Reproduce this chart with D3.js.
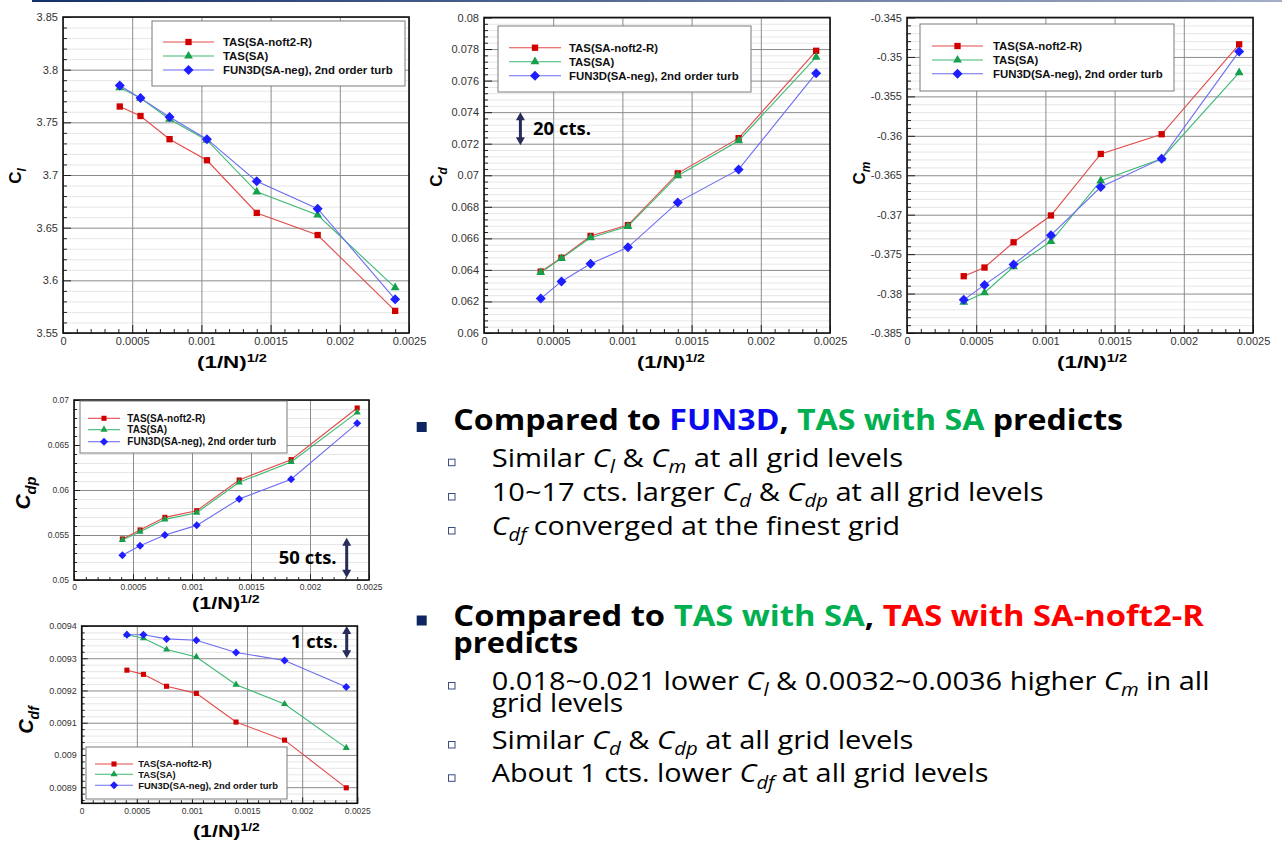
<!DOCTYPE html>
<html>
<head>
<meta charset="utf-8">
<script src="https://cdn.jsdelivr.net/npm/d3@7"></script>
<style>
  body { margin: 0; background: #fff; }
  svg { display: block; }
  text { white-space: pre; }
</style>
</head>
<body>
<svg id="slide" width="1282" height="843"></svg>
<script>
// grid size parameter (1/N)^1/2, same 7 grids for every plot
const gridX = [0.00041, 0.00056, 0.00077, 0.00104, 0.0014, 0.00184, 0.0024];
const seriesNames = ['TAS(SA-noft2-R)', 'TAS(SA)', 'FUN3D(SA-neg), 2nd order turb'];

// lift
const clNoft2 = [3.765, 3.756, 3.734, 3.714, 3.664, 3.643, 3.571];
const clSA    = [3.783, 3.773, 3.753, 3.733, 3.684, 3.662, 3.593];
const clFun3d = [3.785, 3.773, 3.755, 3.734, 3.694, 3.668, 3.582];

// drag
const cdNoft2 = [0.06389, 0.06477, 0.06615, 0.06684, 0.07012, 0.07235, 0.07789];
const cdSA    = [0.06384, 0.06473, 0.06604, 0.06676, 0.06997, 0.07219, 0.07749];
const cdFun3d = [0.06218, 0.06327, 0.06439, 0.06543, 0.06828, 0.07037, 0.07647];

// pitching moment
const cmNoft2 = [-0.3778, -0.3767, -0.3735, -0.3701, -0.3623, -0.3598, -0.3484];
const cmSA    = [-0.3811, -0.3799, -0.3766, -0.3734, -0.3657, -0.3629, -0.3520];
const cmFun3d = [-0.3808, -0.3789, -0.3763, -0.3726, -0.3665, -0.3629, -0.3493];

// pressure drag
const cdpNoft2 = [0.05456, 0.05556, 0.05696, 0.0577, 0.06111, 0.06337, 0.06911];
const cdpSA    = [0.05444, 0.05537, 0.05674, 0.05748, 0.06085, 0.06311, 0.06863];
const cdpFun3d = [0.05274, 0.05381, 0.055, 0.05607, 0.059, 0.06119, 0.06741];

// friction drag
const cdfNoft2 = [0.009263, 0.00925, 0.009213, 0.009191, 0.009102, 0.009046, 0.008898];
const cdfSA    = [0.009373, 0.009362, 0.009327, 0.009304, 0.009218, 0.009158, 0.009022];
const cdfFun3d = [0.009373, 0.009373, 0.00936, 0.009356, 0.009318, 0.009293, 0.009211];

const xDomain = [0, 0.0025];

const svg = d3.select('#slide');

// thin title bar line at the very top
const defs = svg.append('defs');
const grad = defs.append('linearGradient').attr('id', 'topbar');
grad.append('stop').attr('offset', '0%').attr('stop-color', '#14306a');
grad.append('stop').attr('offset', '100%').attr('stop-color', '#a3aec6');
svg.append('rect').attr('x', 32).attr('y', 0).attr('width', 1250).attr('height', 2).attr('fill', 'url(#topbar)');

const styles = [
	{ line: '#e24a4a', mark: '#d10000', sym: d3.symbolSquare },
	{ line: '#3cb874', mark: '#16a04c', sym: d3.symbolTriangle },
	{ line: '#6c6cf2', mark: '#1e1eff', sym: null } // diamond, see below
];

// square turned 45 deg, d3's own diamond is too skinny
const wideDiamond = {
	draw(ctx, size) {
		const r = Math.sqrt(size / 2);
		ctx.moveTo(0, -r); ctx.lineTo(r, 0); ctx.lineTo(0, r); ctx.lineTo(-r, 0); ctx.closePath();
	}
};
styles[2].sym = wideDiamond;

function ticksIn(lo, hi, st) {
	const a = Math.ceil(lo / st - 1e-6), b = Math.floor(hi / st + 1e-6);
	return d3.range(a, b + 1).map(i => +(i * st).toFixed(8));
}
function notOn(vals, st) {
	return vals.filter(v => Math.abs(v / st - Math.round(v / st)) > 1e-6);
}
const fmt = d => String(+d.toFixed(8));

function fitWidth(sel, x, w) {
	const bw = sel.node().getBBox().width;
	if (bw > 0) sel.attr('transform', `translate(${x},0) scale(${w / bw},1) translate(${-x},0)`);
}

function drawChart(o) {
	const b = o.box;
	const w = b.right - b.left, h = b.bottom - b.top;
	const g = svg.append('g');

	const x = d3.scaleLinear().domain(xDomain).range([b.left, b.right]);
	const y = d3.scaleLinear().domain(o.yDomain).range([b.bottom, b.top]);

	const xMaj = ticksIn(xDomain[0], xDomain[1], 0.0005);
	const xMin = notOn(ticksIn(xDomain[0], xDomain[1], 0.0001), 0.0005);
	const yMaj = ticksIn(o.yDomain[0], o.yDomain[1], o.yStep);
	const yMin = notOn(ticksIn(o.yDomain[0], o.yDomain[1], o.yMinor), o.yStep);

	// minor horizontal grid
	g.append('g')
		.attr('transform', `translate(${b.left},0)`)
		.call(d3.axisLeft(y).tickValues(yMin).tickSize(-w).tickFormat(''))
		.call(s => s.select('.domain').remove())
		.selectAll('line').attr('stroke', '#e0e0e0').attr('stroke-width', 0.8);

	// major grid
	g.append('g')
		.attr('transform', `translate(${b.left},0)`)
		.call(d3.axisLeft(y).tickValues(yMaj).tickSize(-w).tickFormat(''))
		.call(s => s.select('.domain').remove())
		.selectAll('line').attr('stroke', '#8c8c8c').attr('stroke-width', 1);
	g.append('g')
		.attr('transform', `translate(0,${b.bottom})`)
		.call(d3.axisBottom(x).tickValues(xMaj).tickSize(-h).tickFormat(''))
		.call(s => s.select('.domain').remove())
		.selectAll('line').attr('stroke', '#8c8c8c').attr('stroke-width', 1);

	// ticks pointing inward
	const tickFont = s => s.attr('font-family', 'Liberation Sans, Arial, sans-serif')
		.attr('font-size', o.tickSize).attr('fill', '#333');

	const yAx = g.append('g')
		.attr('transform', `translate(${b.left},0)`)
		.call(d3.axisLeft(y).tickValues(yMaj).tickSize(-o.majLen).tickPadding(o.yPad).tickFormat(fmt));
	yAx.select('.domain').remove();
	yAx.selectAll('text').call(tickFont).attr('font-size', o.yTickSize || o.tickSize);
	yAx.selectAll('line').attr('stroke', '#222');
	g.append('g')
		.attr('transform', `translate(${b.left},0)`)
		.call(d3.axisLeft(y).tickValues(yMin).tickSize(-o.majLen / 2).tickFormat(''))
		.call(s => s.select('.domain').remove())
		.selectAll('line').attr('stroke', '#222');

	const xAx = g.append('g')
		.attr('transform', `translate(0,${b.bottom})`)
		.call(d3.axisBottom(x).tickValues(xMaj).tickSize(-o.majLen).tickPadding(o.xPad).tickFormat(fmt));
	xAx.select('.domain').remove();
	xAx.selectAll('text').call(tickFont);
	xAx.selectAll('line').attr('stroke', '#222');
	g.append('g')
		.attr('transform', `translate(0,${b.bottom})`)
		.call(d3.axisBottom(x).tickValues(xMin).tickSize(-o.majLen / 2).tickFormat(''))
		.call(s => s.select('.domain').remove())
		.selectAll('line').attr('stroke', '#222');

	// frame
	g.append('rect')
		.attr('x', b.left).attr('y', b.top).attr('width', w).attr('height', h)
		.attr('fill', 'none').attr('stroke', '#111').attr('stroke-width', 1.6);

	// series
	const line = d3.line().x((d, i) => x(gridX[i])).y(d => y(d));
	o.series.forEach((vals, k) => {
		const st = styles[k];
		g.append('path').datum(vals)
			.attr('d', line).attr('fill', 'none')
			.attr('stroke', st.line).attr('stroke-width', 1.1);
		g.selectAll(null).data(vals).enter()
			.append('path')
			.attr('transform', (d, i) => `translate(${x(gridX[i])},${y(d)})`)
			.attr('d', d3.symbol(st.sym, o.markSize[k]))
			.attr('fill', st.mark);
	});

	// legend
	const L = o.legend;
	g.append('rect')
		.attr('x', L.x0).attr('y', L.y0).attr('width', L.x1 - L.x0).attr('height', L.y1 - L.y0)
		.attr('fill', '#fff').attr('stroke', '#7a7a7a').attr('stroke-width', 1);
	seriesNames.forEach((name, k) => {
		const st = styles[k], ry = L.rows[k];
		g.append('line')
			.attr('x1', L.lx0).attr('x2', L.lx1).attr('y1', ry).attr('y2', ry)
			.attr('stroke', st.line).attr('stroke-width', 1.1);
		g.append('path')
			.attr('transform', `translate(${(L.lx0 + L.lx1) / 2},${ry})`)
			.attr('d', d3.symbol(st.sym, o.markSize[k]))
			.attr('fill', st.mark);
		g.append('text')
			.attr('x', L.tx).attr('y', ry).attr('dy', '0.36em')
			.attr('font-family', 'Liberation Sans, Arial, sans-serif')
			.attr('font-weight', 'bold').attr('font-size', L.font).attr('fill', '#111')
			.text(name);
	});

	// y title, rotated
	const yt = g.append('text')
		.attr('transform', `translate(${o.yTitle.x},${o.yTitle.y}) rotate(-90)`)
		.attr('text-anchor', 'middle')
		.attr('font-family', 'Liberation Sans, Arial, sans-serif')
		.attr('font-weight', 'bold').attr('font-size', o.yTitle.size).attr('fill', '#000');
	yt.append('tspan').text('C').attr('font-style', o.yTitle.italic ? 'italic' : 'normal');
	yt.append('tspan').text(o.yTitle.sub).attr('font-style', 'italic')
		.attr('font-size', o.yTitle.size * 0.7).attr('dy', o.yTitle.size * 0.28);

	// x title (1/N)^1/2
	const xt = g.append('text')
		.attr('x', o.xTitle.x).attr('y', o.xTitle.y)
		.attr('font-family', 'Liberation Sans, Arial, sans-serif')
		.attr('font-weight', 'bold').attr('font-size', o.xTitle.size).attr('fill', '#000');
	xt.append('tspan').text('(1/N)');
	xt.append('tspan').text('1/2').attr('font-size', o.xTitle.size * 0.65).attr('dy', -o.xTitle.size * 0.38);
	fitWidth(xt, o.xTitle.x, o.xTitle.w);

	// "xx cts." double arrow
	if (o.note) {
		const n = o.note;
		const ax = x(n.x), ya = y(n.from), yb = y(n.to);
		const hw = 4.5, hl = 8;
		g.append('line')
			.attr('x1', ax).attr('x2', ax).attr('y1', ya + hl - 1).attr('y2', yb - hl + 1)
			.attr('stroke', '#272c58').attr('stroke-width', 3);
		g.append('path')
			.attr('d', `M${ax},${ya} L${ax + hw},${ya + hl} L${ax - hw},${ya + hl} Z M${ax},${yb} L${ax + hw},${yb - hl} L${ax - hw},${yb - hl} Z`)
			.attr('fill', '#272c58');
		const tx = n.side === 'right' ? ax + n.gap : ax - n.gap - n.w;
		const t = g.append('text')
			.attr('x', tx).attr('y', (ya + yb) / 2 + n.size * 0.36)
			.attr('font-family', 'Open Sans, Noto Sans, sans-serif')
			.attr('font-weight', 'bold').attr('font-size', n.size).attr('fill', '#000')
			.text(n.label);
		fitWidth(t, tx, n.w);
	}
}

const bigMarks = [40, 34, 50];
const smallMarks = [26, 22, 32];

drawChart({
	box: { left: 63, top: 17, right: 409, bottom: 333 },
	yDomain: [3.55, 3.85], yStep: 0.05, yMinor: 0.01,
	series: [clNoft2, clSA, clFun3d], markSize: bigMarks,
	tickSize: 11, majLen: 8, yPad: 5, xPad: 4,
	legend: { x0: 152, y0: 21, x1: 405, y1: 86, rows: [42, 56, 70], lx0: 163, lx1: 214, tx: 223, font: 11.4 },
	yTitle: { x: 21, y: 176, size: 17, sub: 'l', italic: false },
	xTitle: { x: 197, y: 368, size: 17, w: 70 }
});

drawChart({
	box: { left: 484, top: 17.5, right: 830, bottom: 333 },
	yDomain: [0.06, 0.08], yStep: 0.002, yMinor: 0.0004,
	series: [cdNoft2, cdSA, cdFun3d], markSize: bigMarks,
	tickSize: 11, majLen: 8, yPad: 5, xPad: 4,
	legend: { x0: 498, y0: 26, x1: 751, y1: 92, rows: [47.7, 61.7, 75.7], lx0: 509, lx1: 561, tx: 569, font: 11.4 },
	yTitle: { x: 442, y: 177, size: 17, sub: 'd', italic: false },
	xTitle: { x: 637, y: 368, size: 17, w: 68 },
	note: { x: 0.000263, from: 0.0740, to: 0.0719, label: '20 cts.', side: 'right', gap: 12.6, w: 58, size: 17 }
});

drawChart({
	box: { left: 907, top: 17.5, right: 1253, bottom: 333 },
	yDomain: [-0.385, -0.345], yStep: 0.005, yMinor: 0.001,
	series: [cmNoft2, cmSA, cmFun3d], markSize: bigMarks,
	tickSize: 11, majLen: 8, yPad: 5, xPad: 4,
	legend: { x0: 920, y0: 24, x1: 1174, y1: 91, rows: [46, 60, 73.7], lx0: 932, lx1: 983, tx: 993, font: 11.4 },
	yTitle: { x: 865, y: 173, size: 17, sub: 'm', italic: false },
	xTitle: { x: 1057, y: 368, size: 17, w: 70 }
});

drawChart({
	box: { left: 74, top: 400, right: 369, bottom: 580 },
	yDomain: [0.05, 0.07], yStep: 0.005, yMinor: 0.001,
	series: [cdpNoft2, cdpSA, cdpFun3d], markSize: smallMarks,
	tickSize: 8.5, majLen: 6, yPad: 5, xPad: 4,
	legend: { x0: 80, y0: 401, x1: 287, y1: 453, rows: [418.3, 429.7, 441.7], lx0: 88, lx1: 120, tx: 127.3, font: 10 },
	yTitle: { x: 30, y: 493, size: 21, sub: 'dp', italic: true },
	xTitle: { x: 192, y: 609, size: 16, w: 68 },
	note: { x: 0.002311, from: 0.0547, to: 0.05026, label: '50 cts.', side: 'left', gap: 10, w: 58, size: 17 }
});

drawChart({
	box: { left: 81.7, top: 626, right: 357.3, bottom: 803.3 },
	yDomain: [0.00885, 0.0094], yStep: 0.0001, yMinor: 0.00002,
	series: [cdfNoft2, cdfSA, cdfFun3d], markSize: smallMarks,
	tickSize: 8.5, yTickSize: 9, majLen: 6, yPad: 5, xPad: 4.5,
	legend: { x0: 86, y0: 747, x1: 287, y1: 799, rows: [764, 774.3, 785.3], lx0: 95, lx1: 133, tx: 138.3, font: 9.4 },
	yTitle: { x: 33, y: 720, size: 20, sub: 'df', italic: true },
	xTitle: { x: 193, y: 837, size: 16, w: 67 },
	note: { x: 0.002404, from: 0.0094, to: 0.0093, label: '1 cts.', side: 'left', gap: 9, w: 46.7, size: 17 }
});

// ---- bullet text on the right ----
const blue = '#0a0af0', green = '#00b050', red = '#ff0000';
const txt = svg.append('g');

function richText(x, yb, segs, o) {
	const t = txt.append('text').attr('x', x).attr('y', yb)
		.attr('font-family', 'Open Sans, Noto Sans, sans-serif')
		.attr('font-size', o.size).attr('font-weight', o.weight || 400).attr('fill', '#000');
	let shift = 0;
	segs.forEach(s => {
		const sp = t.append('tspan').text(s.t);
		const want = s.sub ? o.size * 0.24 : 0;
		if (want !== shift) { sp.attr('dy', want - shift); shift = want; }
		if (s.sub) sp.attr('font-size', o.size * 0.7);
		if (s.i || s.sub) sp.attr('font-style', 'italic');
		if (s.c) sp.attr('fill', s.c);
	});
	fitWidth(t, x, o.w);
	return t;
}

function bigBullet(yTop) {
	txt.append('rect').attr('x', 416.7).attr('y', yTop).attr('width', 10).attr('height', 10).attr('fill', '#0d2560');
}
function smallBullet(yb) {
	txt.append('rect').attr('x', 448.5).attr('y', yb - 7.5).attr('width', 6.5).attr('height', 6.5)
		.attr('fill', '#fff').attr('stroke', '#3b4a80').attr('stroke-width', 1);
}

const H = { size: 29, weight: 700 };
const S = { size: 26 };

bigBullet(422);
richText(453.3, 430, [{ t: 'Compared to ' }, { t: 'FUN3D', c: blue }, { t: ', ' }, { t: 'TAS with SA', c: green }, { t: ' predicts' }], { ...H, w: 670 });

smallBullet(466.7);
richText(491.7, 466.7, [{ t: 'Similar ' }, { t: 'C', i: true }, { t: 'l', sub: true }, { t: ' & ' }, { t: 'C', i: true }, { t: 'm', sub: true }, { t: ' at all grid levels' }], { ...S, w: 411.6 });
smallBullet(501);
richText(491.7, 501, [{ t: '10~17 cts. larger ' }, { t: 'C', i: true }, { t: 'd', sub: true }, { t: ' & ' }, { t: 'C', i: true }, { t: 'dp', sub: true }, { t: ' at all grid levels' }], { ...S, w: 552.3 });
smallBullet(535);
richText(491.7, 535, [{ t: 'C', i: true }, { t: 'df', sub: true }, { t: ' converged at the finest grid' }], { ...S, w: 408.3 });

bigBullet(615.5);
richText(453.3, 626, [{ t: 'Compared to ' }, { t: 'TAS with SA', c: green }, { t: ', ' }, { t: 'TAS with SA-noft2-R', c: red }], { ...H, w: 751.7 });
richText(453.3, 653, [{ t: 'predicts' }], { ...H, w: 125 });

smallBullet(690);
richText(491.7, 690, [{ t: '0.018~0.021 lower ' }, { t: 'C', i: true }, { t: 'l', sub: true }, { t: ' & 0.0032~0.0036 higher ' }, { t: 'C', i: true }, { t: 'm', sub: true }, { t: ' in all' }], { ...S, w: 718.3 });
richText(491.7, 712.3, [{ t: 'grid levels' }], { ...S, w: 131.6 });
smallBullet(749);
richText(491.7, 749, [{ t: 'Similar ' }, { t: 'C', i: true }, { t: 'd', sub: true }, { t: ' & ' }, { t: 'C', i: true }, { t: 'dp', sub: true }, { t: ' at all grid levels' }], { ...S, w: 422 });
smallBullet(782.3);
richText(491.7, 782.3, [{ t: 'About 1 cts. lower ' }, { t: 'C', i: true }, { t: 'df', sub: true }, { t: ' at all grid levels' }], { ...S, w: 497 });
</script>
</body>
</html>
